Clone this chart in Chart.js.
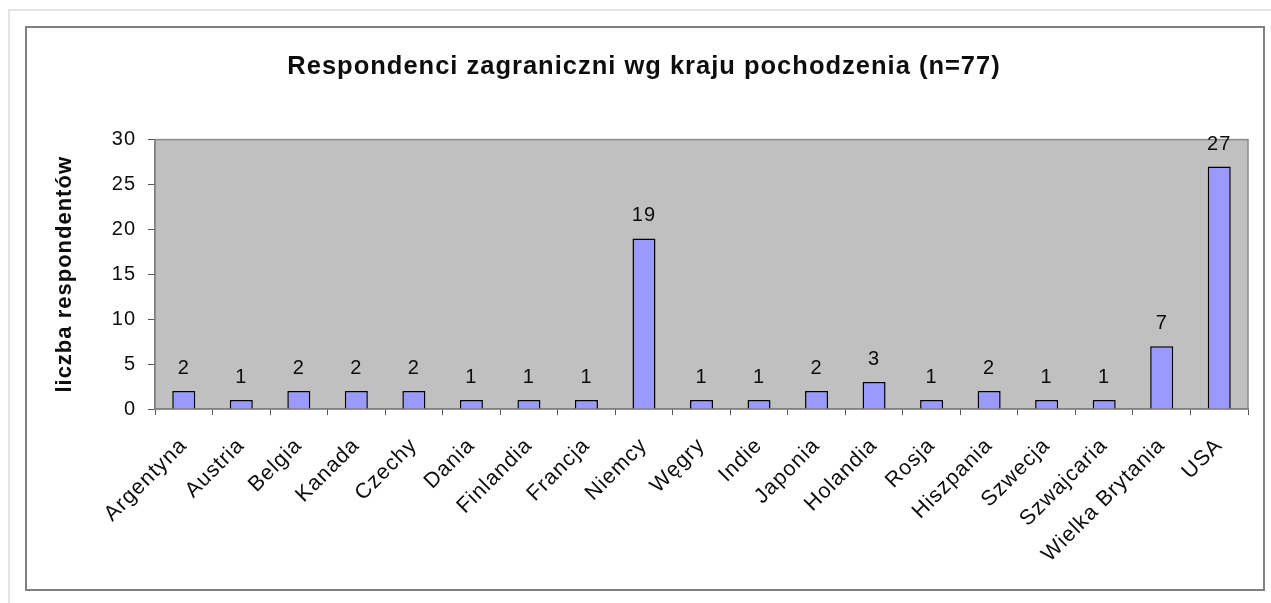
<!DOCTYPE html>
<html>
<head>
<meta charset="utf-8">
<script src="https://cdn.jsdelivr.net/npm/chart.js@4"></script>
<style>
  html, body { margin: 0; padding: 0; background: #fff; }
  #wrap { width: 1271px; height: 603px; }
</style>
</head>
<body>
<div id="wrap"><canvas id="chart" width="1271" height="603"></canvas></div>
<script>
const categories = ['Argentyna', 'Austria', 'Belgia', 'Kanada', 'Czechy', 'Dania', 'Finlandia', 'Francja',
    'Niemcy', 'Węgry', 'Indie', 'Japonia', 'Holandia', 'Rosja', 'Hiszpania', 'Szwecja', 'Szwajcaria',
    'Wielka Brytania', 'USA'];
const respondents = [2, 1, 2, 2, 2, 1, 1, 1, 19, 1, 1, 2, 3, 1, 2, 1, 1, 7, 27];
const yMax = 30;
const yStep = 5;
const chartTitle = 'Respondenci zagraniczni wg kraju pochodzenia (n=77)';
const yTitle = 'liczba respondentów';

const textColor = '#0d0d0d';
const fontFamily = '"Liberation Sans", Arial, sans-serif';

// frame, plot background and letter spacing like the old office chart
const framePlugin = {
    id: 'frame',
    beforeUpdate(chart) {
        chart.ctx.letterSpacing = '1px';
    },
    beforeDraw(chart) {
        const ctx = chart.ctx;
        const area = chart.chartArea;
        ctx.save();
        ctx.fillStyle = '#fff';
        ctx.fillRect(0, 0, chart.width, chart.height);

        ctx.strokeStyle = '#e4e4e4';
        ctx.lineWidth = 2;
        ctx.beginPath();
        ctx.moveTo(9, chart.height);
        ctx.lineTo(9, 10);
        ctx.lineTo(chart.width, 10);
        ctx.stroke();

        ctx.strokeStyle = '#808080';
        ctx.lineWidth = 2;
        ctx.strokeRect(26, 27, 1238, 563);

        ctx.fillStyle = '#c0c0c0';
        ctx.fillRect(area.left, area.top, area.right - area.left, area.bottom - area.top);
        ctx.strokeStyle = '#8a8a8a';
        ctx.lineWidth = 1.5;
        ctx.strokeRect(area.left, area.top, area.right - area.left, area.bottom - area.top);
        ctx.restore();
    }
};

const valueLabels = {
    id: 'valueLabels',
    afterDatasetsDraw(chart) {
        const ctx = chart.ctx;
        const meta = chart.getDatasetMeta(0);
        ctx.save();
        ctx.font = '20px ' + fontFamily;
        ctx.fillStyle = textColor;
        ctx.textAlign = 'center';
        ctx.textBaseline = 'alphabetic';
        meta.data.forEach((bar, i) => {
            ctx.fillText(String(respondents[i]), bar.x, bar.y - 17);
        });
        ctx.restore();
    }
};

new Chart(document.getElementById('chart'), {
    type: 'bar',
    data: {
        labels: categories,
        datasets: [{
            label: 'liczba respondentów',
            data: respondents,
            backgroundColor: '#9999ff',
            borderColor: '#000',
            borderWidth: 1.5,
            barPercentage: 0.4,
            categoryPercentage: 1
        }]
    },
    options: {
        responsive: false,
        animation: false,
        layout: {
            padding: { left: 40, right: 23, top: 27, bottom: 14 }
        },
        plugins: {
            legend: { display: false },
            tooltip: { enabled: false },
            title: {
                display: true,
                text: chartTitle,
                color: textColor,
                font: { family: fontFamily, size: 25.5, weight: 'bold' },
                padding: { top: 25, bottom: 57 }
            }
        },
        scales: {
            x: {
                grid: {
                    display: true,
                    drawOnChartArea: false,
                    drawTicks: true,
                    tickLength: 6,
                    color: '#555'
                },
                border: { color: '#808080', width: 1.5 },
                ticks: {
                    autoSkip: false,
                    maxRotation: 45,
                    minRotation: 45,
                    padding: 18,
                    color: textColor,
                    font: { family: fontFamily, size: 21.5 }
                },
                afterFit(scale) {
                    scale.height = 180;
                }
            },
            y: {
                min: 0,
                max: yMax,
                grid: {
                    display: true,
                    drawOnChartArea: false,
                    drawTicks: true,
                    tickLength: 7,
                    color: '#555'
                },
                border: { color: '#808080', width: 1.5 },
                ticks: {
                    stepSize: yStep,
                    padding: 12,
                    color: textColor,
                    font: { family: fontFamily, size: 20 }
                },
                title: {
                    display: true,
                    text: yTitle,
                    color: textColor,
                    font: { family: fontFamily, size: 22, weight: 'bold' },
                    padding: { top: 12, bottom: 0 }
                },
                afterFit(scale) {
                    scale.width = 115;
                }
            }
        }
    },
    plugins: [framePlugin, valueLabels]
});
</script>
</body>
</html>
